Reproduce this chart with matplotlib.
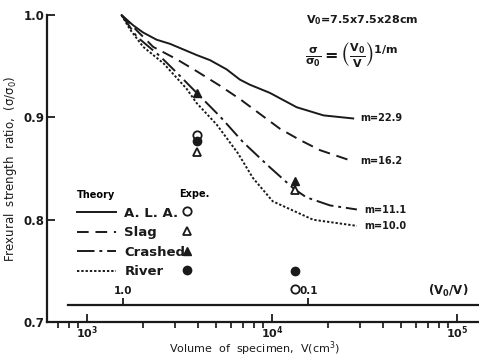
import matplotlib.pyplot as plt
from matplotlib.lines import Line2D
from matplotlib.ticker import LogLocator, NullLocator, NullFormatter

plt.rcParams['font.family'] = ['DejaVu Sans']
plt.rcParams['font.weight'] = 'bold'
plt.rcParams['mathtext.default'] = 'regular'

V0 = 7.5 * 7.5 * 28  # reference volume, cm3

# theory curves
ala_V = [1540, 1780, 2015, 2380, 2810, 3920, 4630, 5690, 6710, 7600, 9750, 13600, 19000, 27500]
ala_s = [1.0, 0.990, 0.983, 0.976, 0.972, 0.961, 0.956, 0.947, 0.937, 0.932, 0.924, 0.910, 0.902, 0.899]
ala_m = 22.9

slag_V = [1540, 1860, 2280, 3050, 3935, 5240, 6710, 11040, 14150, 18200, 27500]
slag_s = [1.0, 0.985, 0.969, 0.957, 0.945, 0.931, 0.918, 0.889, 0.878, 0.868, 0.857]
slag_m = 16.2

crashed_V = [1540, 1860, 2480, 3050, 3920, 5240, 6970, 9510, 13000, 15300, 20600, 28800]
crashed_s = [1.0, 0.979, 0.960, 0.944, 0.924, 0.901, 0.876, 0.853, 0.831, 0.822, 0.814, 0.810]
crashed_m = 11.1

river_V = [1540, 1710, 2015, 2590, 3460, 3920, 5030, 6550, 7880, 10100, 16700, 28800]
river_s = [1.0, 0.986, 0.969, 0.953, 0.928, 0.914, 0.893, 0.865, 0.841, 0.818, 0.800, 0.794]
river_m = 10.0

# experiments
exp_V = [3920, 13300]
ala_exp = [0.883, 0.732]
slag_exp = [0.866, 0.829]
crashed_exp = [0.924, 0.838]
river_exp = [0.877, 0.750]

names = ['A. L. A.', 'Slag', 'Crashed', 'River']

ink = '#1a1a1a'
fig = plt.figure(figsize=(4.79, 3.61), dpi=100)
ax = fig.add_axes([0.098, 0.108, 0.902, 0.85])

styles = ['-', (0, (6, 3.5)), (0, (9, 2.5, 1.5, 2.5)), (0, (1.2, 1))]
curves = [(ala_V, ala_s, ala_m), (slag_V, slag_s, slag_m),
          (crashed_V, crashed_s, crashed_m), (river_V, river_s, river_m)]
handles = []
for (V, s, m), ls in zip(curves, styles):
    h, = ax.plot(V, s, color=ink, lw=1.4, ls=ls, clip_on=False)
    handles.append(h)
    ax.annotate(f'm={m}', (V[-1], s[-1]), xytext=(5, 0), textcoords='offset points',
                va='center', ha='left', fontsize=7, color=ink)

mk = dict(color=ink, ls='none', ms=6, clip_on=False)
ax.plot(exp_V, ala_exp, marker='o', mfc='white', mew=1.3, **mk)
ax.plot(exp_V, slag_exp, marker='^', mfc='white', mew=1.3, **mk)
ax.plot(exp_V, crashed_exp, marker='^', **mk)
ax.plot(exp_V, river_exp, marker='o', **mk)

ax.set_xscale('log')
ax.set_xlim(608, 131600)
ax.set_ylim(0.7, 1.0)
ax.set_yticks([0.7, 0.8, 0.9, 1.0])
ax.xaxis.set_major_locator(LogLocator(base=10, numticks=10))
ax.xaxis.set_minor_locator(LogLocator(base=10, subs=range(2, 10), numticks=20))
ax.xaxis.set_minor_formatter(NullFormatter())
ax.tick_params(axis='both', direction='in', colors=ink, labelsize=8.5, width=1.3)
ax.tick_params(axis='x', which='major', length=6, pad=2, labelsize=8)
ax.tick_params(axis='x', which='minor', length=4, width=1.1)
ax.tick_params(axis='y', length=6, pad=2)
for side in ['top', 'right']:
    ax.spines[side].set_visible(False)
for side in ['left', 'bottom']:
    ax.spines[side].set_linewidth(1.6)
    ax.spines[side].set_color(ink)

ax.set_xlabel('Volume  of  specimen,  V(cm$^3$)', fontsize=8, color=ink)
ax.xaxis.set_label_coords(0.48, -0.058)
ax.set_ylabel('Frexural  strength  ratio,  ($\\sigma/\\sigma_0$)', fontsize=8.5,
              color=ink, labelpad=3)

# V0/V scale
sec = ax.secondary_xaxis(0.057, functions=(lambda v: V0 / v, lambda r: V0 / r))
sec.set_alignment('top')
sec.set_xticks([1.0, 0.1], labels=['1.0', '0.1'])
sec.xaxis.set_minor_locator(NullLocator())
sec.tick_params(direction='out', length=5, width=1.3, labelsize=7.5, pad=1, colors=ink)
sec.spines['top'].set_linewidth(1.6)
sec.spines['top'].set_color(ink)
sec.spines['top'].set_bounds(2.0, 0.005)
ax.text(0.975, 0.102, '($V_0$/V)', transform=ax.transAxes, ha='right', va='center',
        fontsize=8.5, color=ink)

# legends
leg1 = ax.legend(handles, names, title='Theory', loc='upper left',
                 bbox_to_anchor=(0.069, 0.43), frameon=False, fontsize=9.5,
                 title_fontsize=7, alignment='left', handlelength=3.0,
                 handletextpad=0.6, labelspacing=0.5, borderpad=0, borderaxespad=0)
for t in leg1.get_texts():
    t.set_color(ink)
ax.add_artist(leg1)
exp_handles = [Line2D([], [], marker='o', mfc='white', mew=1.3, color=ink, ls='none', ms=6),
               Line2D([], [], marker='^', mfc='white', mew=1.3, color=ink, ls='none', ms=6),
               Line2D([], [], marker='^', color=ink, ls='none', ms=6),
               Line2D([], [], marker='o', color=ink, ls='none', ms=6)]
leg2 = ax.legend(exp_handles, names, title='Expe.', loc='upper left',
                 bbox_to_anchor=(0.306, 0.432), frameon=False, fontsize=9.5,
                 title_fontsize=7, alignment='left', handlelength=1.2, handletextpad=0,
                 labelspacing=0.5, borderpad=0, borderaxespad=0)
for t in leg2.get_texts():
    t.set_alpha(0)

fig.text(0.757, 0.945, '$V_0$=7.5x7.5x28cm', ha='center', va='center',
         fontsize=8, color=ink)
fig.text(0.735, 0.85, '$\\frac{\\sigma}{\\sigma_0}=\\left(\\frac{V_0}{V}\\right)^{1/m}$',
         ha='center', va='center', fontsize=11.5, color=ink)

fig.savefig('out.png', dpi=100, facecolor='white')
